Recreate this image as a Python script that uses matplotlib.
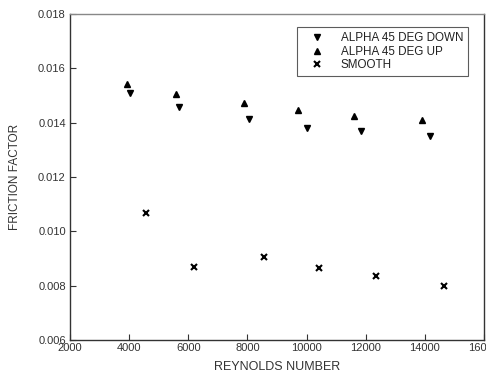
import matplotlib.pyplot as plt

plt.rcParams['font.family'] = ['Liberation Sans', 'DejaVu Sans']

# alpha 45 deg, flow down
re_down = [4020, 5680, 8070, 10030, 11850, 14180]
f_down = [0.01509, 0.01458, 0.01413, 0.01380, 0.01369, 0.01351]

# alpha 45 deg, flow up
re_up = [3920, 5580, 7900, 9700, 11600, 13900]
f_up = [0.01542, 0.01506, 0.01472, 0.01448, 0.01425, 0.01408]

# smooth pipe
re_smooth = [4560, 6180, 8550, 10430, 12360, 14650]
f_smooth = [0.01067, 0.00869, 0.00906, 0.00865, 0.00834, 0.00799]

xticks = [2000, 4000, 6000, 8000, 10000, 12000, 14000, 16000]
yticks = [0.006, 0.008, 0.010, 0.012, 0.014, 0.016, 0.018]

fig = plt.figure(figsize=(4.86, 3.77), dpi=100)
ax = fig.add_axes([70 / 486, 37 / 377, 414 / 486, 326 / 377])

ax.plot(re_down, f_down, linestyle='none', marker='v', color='black',
        markersize=5, label='ALPHA 45 DEG DOWN')
ax.plot(re_up, f_up, linestyle='none', marker='^', color='black',
        markersize=5, label='ALPHA 45 DEG UP')
ax.plot(re_smooth, f_smooth, linestyle='none', marker='x', color='black',
        markersize=4, markeredgewidth=1.5, label='SMOOTH')

ax.set_xlim(2000, 16000)
ax.set_ylim(0.006, 0.018)
ax.set_xticks(xticks)
ax.set_yticks(yticks)
ax.set_yticklabels([f'{v:.3f}' for v in yticks])
ax.tick_params(direction='in', length=4, width=0.8, labelsize=8,
               colors='#333333', pad=3)
ax.tick_params(axis='x', pad=2)

for side in ['left', 'bottom', 'right']:
    ax.spines[side].set_color('#333333')
    ax.spines[side].set_linewidth(1.0)
ax.spines['top'].set_color('#888888')
ax.spines['top'].set_linewidth(1.0)

ax.set_xlabel('REYNOLDS NUMBER', fontsize=9, color='#333333', labelpad=6)
ax.set_ylabel('FRICTION FACTOR', fontsize=8.5, color='#333333', labelpad=12)

leg = ax.legend(loc='upper right', bbox_to_anchor=(0.962, 0.96), fontsize=8.4,
                frameon=True, fancybox=False, edgecolor='#333333',
                borderpad=0.45, handlelength=2.6, handletextpad=0.7,
                labelspacing=0.12, borderaxespad=0)
leg.get_frame().set_linewidth(0.8)
for t in leg.get_texts():
    t.set_color('#222222')

fig.savefig('out.png', dpi=100)
